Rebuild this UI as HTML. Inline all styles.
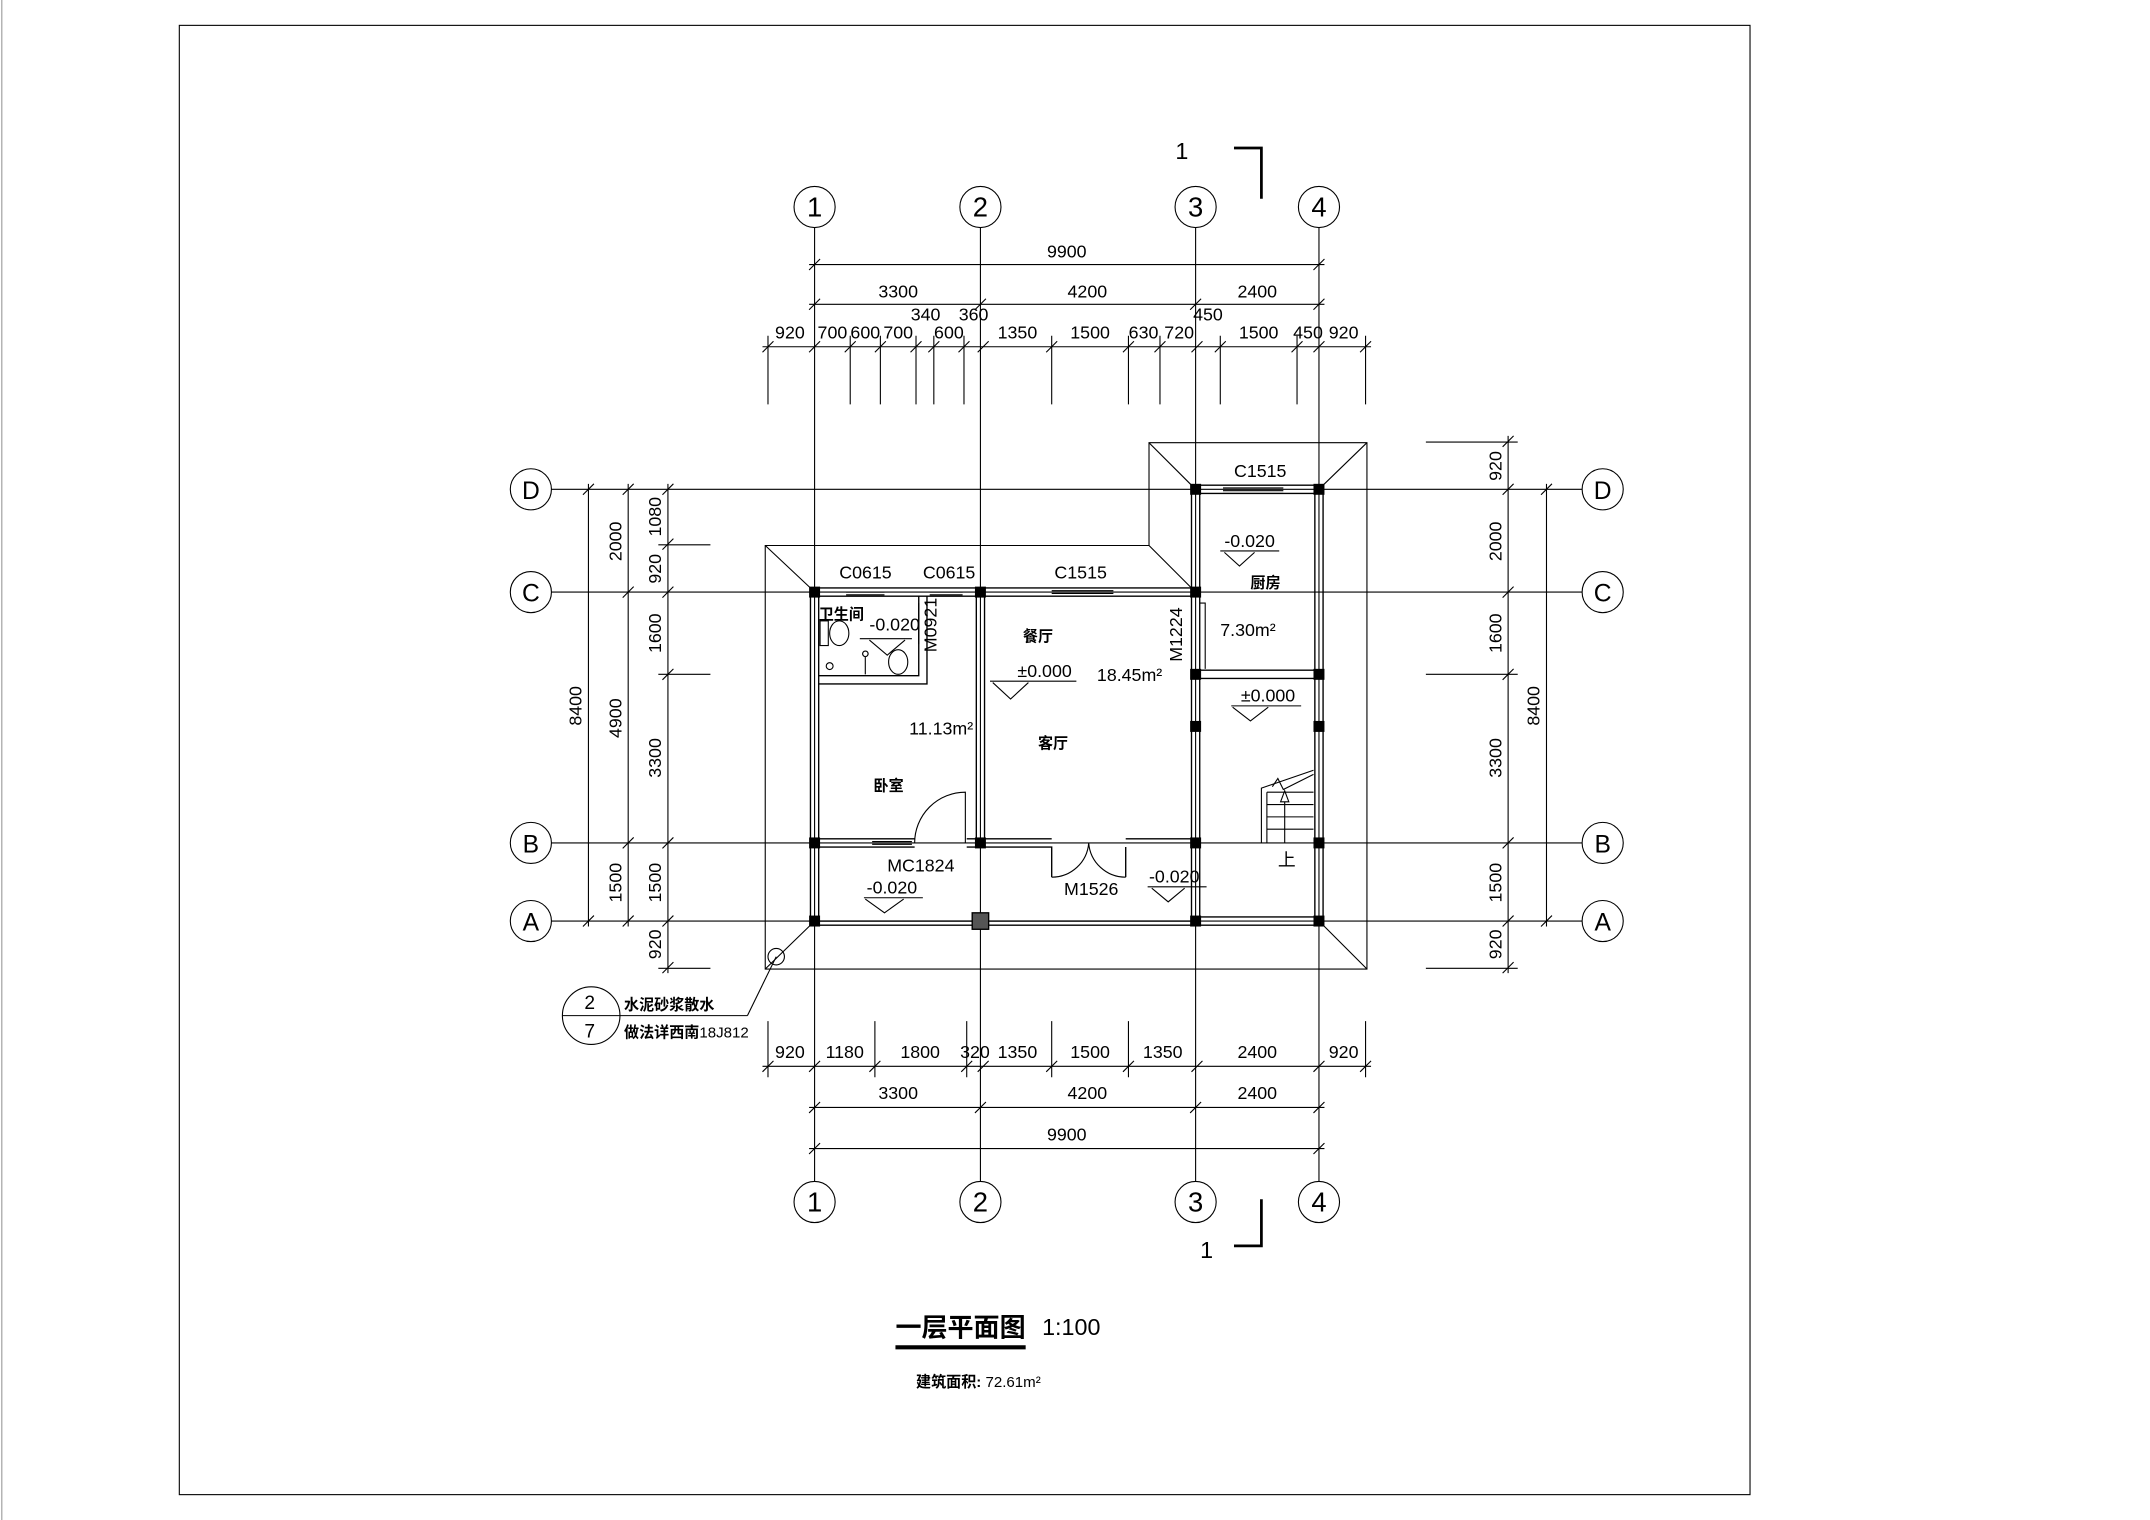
<!DOCTYPE html>
<html><head><meta charset="utf-8"><style>
html,body{margin:0;padding:0;background:#fff}
svg{display:block}
text{font-family:"Liberation Sans","Noto Sans CJK SC",sans-serif;fill:#000}
.t{font-size:13px}
.b{font-weight:bold;font-family:"Noto Sans CJK SC","WenQuanYi Zen Hei",sans-serif}
</style></head><body>
<svg width="2150" height="1520" viewBox="0 0 1568 1109" xmlns="http://www.w3.org/2000/svg">
<g fill="none" stroke="#000" stroke-width="0.8">
<rect x="130.5" y="18.5" width="1146" height="1072"/>
<line x1="1" y1="0" x2="1" y2="1109" stroke="#999"/>
<line x1="594" y1="166" x2="594" y2="862"/><line x1="715" y1="166" x2="715" y2="862"/>
<line x1="872" y1="166" x2="872" y2="862"/><line x1="962" y1="166" x2="962" y2="862"/>
<line x1="402" y1="357" x2="1154" y2="357"/><line x1="402" y1="432" x2="1154" y2="432"/>
<line x1="402" y1="615" x2="1154" y2="615"/><line x1="402" y1="672" x2="1154" y2="672"/>
<circle cx="594" cy="151" r="15" fill="#fff"/><circle cx="715" cy="151" r="15" fill="#fff"/><circle cx="872" cy="151" r="15" fill="#fff"/><circle cx="962" cy="151" r="15" fill="#fff"/>
<circle cx="594" cy="877" r="15" fill="#fff"/><circle cx="715" cy="877" r="15" fill="#fff"/><circle cx="872" cy="877" r="15" fill="#fff"/><circle cx="962" cy="877" r="15" fill="#fff"/>
<circle cx="387" cy="357" r="15" fill="#fff"/><circle cx="387" cy="432" r="15" fill="#fff"/><circle cx="387" cy="615" r="15" fill="#fff"/><circle cx="387" cy="672" r="15" fill="#fff"/>
<circle cx="1169" cy="357" r="15" fill="#fff"/><circle cx="1169" cy="432" r="15" fill="#fff"/><circle cx="1169" cy="615" r="15" fill="#fff"/><circle cx="1169" cy="672" r="15" fill="#fff"/>
<line x1="590" y1="193" x2="966" y2="193"/><line x1="590" y1="222" x2="966" y2="222"/><line x1="556" y1="253" x2="1000" y2="253"/>
<path d="M560 245V295M620 245V295M642 245V295M668 245V295M681 245V295M703 245V295M767 245V295M823 245V295M846 245V295M890 245V295M946 245V295M996 245V295"/>
<path d="M590 197L598 189M958 197L966 189M590 226L598 218M711 226L719 218M868 226L876 218M958 226L966 218"/>
<path d="M556 257L564 249M590 257L598 249M616 257L624 249M638 257L646 249M664 257L672 249M677 257L685 249M699 257L707 249M713 257L721 249M763 257L771 249M819 257L827 249M842 257L850 249M869 257L877 249M886 257L894 249M942 257L950 249M958 257L966 249M992 257L1000 249"/>
<line x1="556" y1="778" x2="1000" y2="778"/><line x1="590" y1="808" x2="966" y2="808"/><line x1="590" y1="838" x2="966" y2="838"/>
<path d="M560 745V786M638 745V786M705 745V786M767 745V786M823 745V786M996 745V786"/>
<path d="M556 782L564 774M590 782L598 774M634 782L642 774M701 782L709 774M713 782L721 774M763 782L771 774M819 782L827 774M869 782L877 774M958 782L966 774M992 782L1000 774"/>
<path d="M590 812L598 804M711 812L719 804M868 812L876 804M958 812L966 804M590 842L598 834M958 842L966 834"/>
<line x1="429" y1="353" x2="429" y2="676"/><line x1="458" y1="353" x2="458" y2="676"/><line x1="487" y1="353" x2="487" y2="710"/>
<path d="M480 397.5H518M480 492H518M480 706.5H518"/>
<path d="M425 361L433 353M425 676L433 668M454 361L462 353M454 436L462 428M454 619L462 611M454 676L462 668M483 361L491 353M483 401L491 393M483 436L491 428M483 496L491 488M483 619L491 611M483 676L491 668M483 710L491 702"/>
<line x1="1100" y1="318" x2="1100" y2="710"/><line x1="1128" y1="353" x2="1128" y2="676"/>
<path d="M1040 322.5H1107M1040 492H1107M1040 706.5H1107"/>
<path d="M1096 326L1104 318M1096 361L1104 353M1096 436L1104 428M1096 496L1104 488M1096 619L1104 611M1096 676L1104 668M1096 710L1104 702M1124 361L1132 353M1124 676L1132 668"/>
<path d="M558 398H838V323H997V707H558Z"/>
<path d="M558 398L591 429M838 398L869 429M838 323L869 354M997 323L965 354M997 707L965 675M558 707L591 675"/>
<g stroke-width="1">
<path d="M591 429V675M597 435V612M597 618V669"/>
<path d="M591 429H875M597 435H869"/>
<path d="M869 354V675M875 360V669M959 360V669M965 354V675M869 354H965M875 360H959M869 675H965M875 669H959"/>
<path d="M712 435V612M718 435V612"/>
<path d="M597 493H670V435M597 499H676V435"/>
<path d="M875 489H959M875 495H959"/>
<path d="M597 612H667M597 618H667M705 612H712M705 618H712V612"/>
<path d="M718 612H767M718 618H767V640M821 612H869M821 618H821V640"/>
<path d="M597 672H869M597 675H869"/>
</g>
<path d="M617 432H645M617 434H645M678 432H702M678 434H702M767 431H812M767 433H812M892 356H936M892 358H936M892 360H936M636 614H665M636 616H665"/>
<path d="M704 615V578A37 37 0 0 0 667 615"/>
<path d="M767 640A27 27 0 0 0 794 615M821 640A27 27 0 0 1 794 615"/>
<path d="M875 440H879V488M670 440V470"/>
<rect x="598" y="453" width="6" height="18"/><ellipse cx="612" cy="462" rx="7" ry="9"/><ellipse cx="655" cy="483" rx="7" ry="9"/><circle cx="605" cy="486" r="2.5"/>
<path d="M631 479V492M631 479a2 2 0 1 1 0.1 0"/>
<path d="M920 615V575L958 562M924 578V615M924 578H958M924 587H958M924 596H958M924 605H958M937 615V585M934 585L937 577L940 585Z"/>
<path d="M928 574L932 568L936 576L958 565"/>
<path d="M630 655H673M631 656L645 666L659 656M722 497H785M724 498L737 510L750 498M837 647H880M840 648L852 658L864 648M890 402H933M893 403L904 413L915 403M898 515H949M899 516L912 526L925 516M627 466H665M634 467L647 478L660 467"/>
<path d="M900 108H920V145M900 909H920V875" stroke-width="2"/>
<circle cx="431" cy="741" r="21"/><line x1="410" y1="741" x2="545" y2="741"/><line x1="545" y1="741" x2="566" y2="698"/><circle cx="566" cy="698" r="6"/>
<line x1="653" y1="983" x2="748" y2="983" stroke-width="3"/>
</g>
<g fill="#000">
<rect x="590" y="428" width="8" height="8"/><rect x="711" y="428" width="8" height="8"/><rect x="868" y="428" width="8" height="8"/>
<rect x="590" y="611" width="8" height="8"/><rect x="711" y="611" width="8" height="8"/><rect x="868" y="611" width="8" height="8"/>
<rect x="590" y="668" width="8" height="8"/><rect x="868" y="668" width="8" height="8"/><rect x="958" y="668" width="8" height="8"/>
<rect x="868" y="353" width="8" height="8"/><rect x="958" y="353" width="8" height="8"/><rect x="868" y="488" width="8" height="8"/><rect x="958" y="488" width="8" height="8"/>
<rect x="868" y="526" width="8" height="8"/><rect x="958" y="526" width="8" height="8"/><rect x="958" y="611" width="8" height="8"/>
<rect x="709" y="666" width="12" height="12" fill="#555" stroke="#000"/>
</g>
<g class="t" text-anchor="middle" font-size="18">
<text x="594" y="158" font-size="20">1</text><text x="715" y="158" font-size="20">2</text><text x="872" y="158" font-size="20">3</text><text x="962" y="158" font-size="20">4</text>
<text x="594" y="884" font-size="20">1</text><text x="715" y="884" font-size="20">2</text><text x="872" y="884" font-size="20">3</text><text x="962" y="884" font-size="20">4</text>
<text x="387" y="364" font-size="18">D</text><text x="387" y="439" font-size="18">C</text><text x="387" y="622" font-size="18">B</text><text x="387" y="679" font-size="18">A</text>
<text x="1169" y="364" font-size="18">D</text><text x="1169" y="439" font-size="18">C</text><text x="1169" y="622" font-size="18">B</text><text x="1169" y="679" font-size="18">A</text>
<text x="862" y="116" font-size="17">1</text><text x="880" y="918" font-size="17">1</text>
</g>
<g class="t" text-anchor="middle" font-size="13">
<text x="778" y="188">9900</text><text x="655" y="217">3300</text><text x="793" y="217">4200</text><text x="917" y="217">2400</text>
<text x="576" y="247">920</text><text x="607" y="247">700</text><text x="631" y="247">600</text><text x="655" y="247">700</text><text x="675" y="234">340</text><text x="692" y="247">600</text><text x="710" y="234">360</text><text x="742" y="247">1350</text><text x="795" y="247">1500</text><text x="834" y="247">630</text><text x="860" y="247">720</text><text x="881" y="234">450</text><text x="918" y="247">1500</text><text x="954" y="247">450</text><text x="980" y="247">920</text>
<text x="576" y="772">920</text><text x="616" y="772">1180</text><text x="671" y="772">1800</text><text x="711" y="772">320</text><text x="742" y="772">1350</text><text x="795" y="772">1500</text><text x="848" y="772">1350</text><text x="917" y="772">2400</text><text x="980" y="772">920</text>
<text x="655" y="802">3300</text><text x="793" y="802">4200</text><text x="917" y="802">2400</text><text x="778" y="832">9900</text>
</g>
<g class="t" font-size="13" text-anchor="middle">
<text transform="translate(424 515) rotate(-90)">8400</text>
<text transform="translate(453 395) rotate(-90)">2000</text><text transform="translate(453 524) rotate(-90)">4900</text><text transform="translate(453 644) rotate(-90)">1500</text>
<text transform="translate(482 377) rotate(-90)">1080</text><text transform="translate(482 415) rotate(-90)">920</text><text transform="translate(482 462) rotate(-90)">1600</text><text transform="translate(482 553) rotate(-90)">3300</text><text transform="translate(482 644) rotate(-90)">1500</text><text transform="translate(482 689) rotate(-90)">920</text>
<text transform="translate(1095 340) rotate(-90)">920</text><text transform="translate(1095 395) rotate(-90)">2000</text><text transform="translate(1095 462) rotate(-90)">1600</text><text transform="translate(1095 553) rotate(-90)">3300</text><text transform="translate(1095 644) rotate(-90)">1500</text><text transform="translate(1095 689) rotate(-90)">920</text>
<text transform="translate(1123 515) rotate(-90)">8400</text>
<text transform="translate(862 463) rotate(-90)">M1224</text><text transform="translate(683 456) rotate(-90)">M0921</text>
</g>
<g class="t" font-size="13">
<text x="612" y="422">C0615</text><text x="673" y="422">C0615</text><text x="769" y="422">C1515</text><text x="900" y="348">C1515</text>
<text x="634" y="460">-0.020</text><text x="742" y="494">±0.000</text><text x="800" y="497">18.45m²</text><text x="663" y="536">11.13m²</text>
<text x="647" y="636">MC1824</text><text x="632" y="652">-0.020</text><text x="776" y="653">M1526</text><text x="838" y="644">-0.020</text>
<text x="893" y="399">-0.020</text><text x="890" y="464">7.30m²</text><text x="905" y="512">±0.000</text><text x="932" y="632">上</text>
</g>
<g class="b" font-size="11">
<text x="597" y="452">卫生间</text><text x="746" y="468">餐厅</text><text x="757" y="546">客厅</text><text x="637" y="577">卧室</text><text x="912" y="429">厨房</text>
<text x="455" y="737">水泥砂浆散水</text><text x="455" y="757">做法详西南<tspan font-family="Liberation Sans" font-weight="normal">18J812</tspan></text>
<text x="668" y="1012">建筑面积: <tspan font-family="Liberation Sans" font-weight="normal">72.61m²</tspan></text>
</g>
<text x="426" y="736" font-size="14">2</text><text x="426" y="757" font-size="14">7</text>
<text x="653" y="975" class="b" font-size="19">一层平面图</text>
<text x="760" y="974" font-size="17">1:100</text>
</svg>
</body></html>
